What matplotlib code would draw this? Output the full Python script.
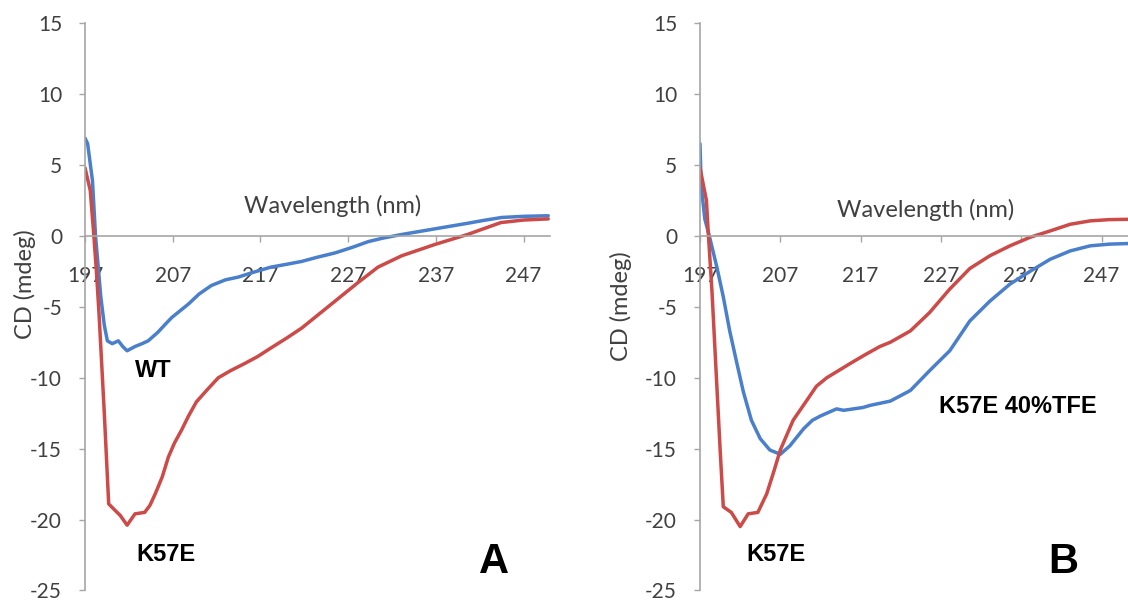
import matplotlib
matplotlib.use('Agg')
import matplotlib.pyplot as plt

# panel A: wild type vs K57E
wl_wt_a = [197.0, 197.3, 197.85, 198.2, 198.8, 199.2, 199.55, 200.1, 200.8, 201.3,
           201.8, 202.7, 203.5, 204.2, 205.3, 206.2, 206.9, 207.8, 208.8, 210.0,
           211.4, 213.0, 214.5, 216.0, 218.2, 220.0, 221.7, 223.5, 225.5, 227.5,
           229.3, 231.0, 233.1, 235.0, 236.9, 238.8, 240.7, 242.5, 244.5, 247.0, 249.8]
cd_wt_a = [6.9, 6.5, 3.9, 0.0, -4.3, -6.3, -7.4, -7.6, -7.4, -7.8,
           -8.1, -7.8, -7.6, -7.4, -6.8, -6.2, -5.75, -5.3, -4.8, -4.1,
           -3.5, -3.1, -2.9, -2.6, -2.2, -2.0, -1.8, -1.5, -1.2, -0.8,
           -0.4, -0.15, 0.1, 0.3, 0.5, 0.7, 0.9, 1.1, 1.3, 1.38, 1.42]

wl_k57e_a = [197.0, 197.6, 198.0, 198.3, 198.6, 199.2, 199.7, 200.5, 201.0, 201.8,
             202.7, 203.8, 204.4, 205.0, 205.8, 206.5, 207.2, 208.0, 208.8, 209.7,
             211.0, 212.2, 213.6, 215.2, 216.7, 218.2, 220.0, 221.7, 223.5, 225.5,
             228.1, 230.4, 233.1, 236.9, 240.6, 244.4, 247.0, 249.8]
cd_k57e_a = [4.8, 3.2, 0.1, -2.5, -5.5, -12.5, -18.9, -19.4, -19.7, -20.4,
             -19.6, -19.5, -19.0, -18.2, -17.0, -15.6, -14.6, -13.7, -12.7, -11.7,
             -10.8, -10.0, -9.5, -9.0, -8.5, -7.9, -7.2, -6.5, -5.6, -4.6,
             -3.3, -2.2, -1.4, -0.6, 0.1, 0.94, 1.12, 1.2]

# panel B: K57E in 40% TFE vs K57E
wl_tfe_b = [197.0, 197.15, 197.6, 198.2, 199.1, 199.9, 200.7, 201.6, 202.4, 203.4,
            204.5, 205.7, 207.0, 208.2, 209.9, 211.0, 212.0, 214.0, 214.9, 217.3,
            218.2, 220.7, 223.2, 225.6, 228.1, 230.6, 233.1, 235.6, 238.1, 240.6,
            243.1, 245.6, 248.0, 250.3]
cd_tfe_b = [6.5, 3.5, 1.2, -0.1, -2.2, -4.3, -6.7, -9.0, -11.0, -13.0,
            -14.3, -15.1, -15.4, -14.8, -13.6, -13.0, -12.7, -12.2, -12.3, -12.1,
            -11.95, -11.65, -10.9, -9.5, -8.1, -6.0, -4.6, -3.4, -2.5, -1.65,
            -1.06, -0.7, -0.58, -0.54]

wl_k57e_b = [197.0, 197.8, 198.0, 198.5, 199.0, 199.5, 199.9, 200.9, 202.0, 203.0,
             204.2, 205.3, 206.2, 207.0, 208.6, 210.3, 211.5, 212.8, 215.7, 217.5,
             219.4, 220.7, 223.2, 225.6, 228.1, 230.6, 233.1, 235.6, 238.1, 240.6,
             243.1, 245.6, 248.0, 250.3]
cd_k57e_b = [4.8, 2.5, 0.5, -4.0, -9.5, -15.0, -19.1, -19.5, -20.5, -19.6,
             -19.5, -18.2, -16.6, -15.1, -13.0, -11.6, -10.6, -10.0, -9.0, -8.4,
             -7.8, -7.5, -6.7, -5.4, -3.75, -2.3, -1.4, -0.7, -0.1, 0.35,
             0.82, 1.06, 1.15, 1.17]

xticks = [197, 207, 217, 227, 237, 247]
yticks = [-25, -20, -15, -10, -5, 0, 5, 10, 15]

BLUE = '#4A7FCB'
RED = '#CC4A47'
AXIS = '#A6A6A6'
TXT = '#404040'

W, H = 1128, 607
plt.rcParams['font.family'] = ['Lato', 'DejaVu Sans']
plt.rcParams['axes.unicode_minus'] = False


def px(x, y):
    return x / W, 1 - y / H


def style(ax, xmax):
    ax.set_xlim(197, xmax)
    ax.set_ylim(-25, 15)
    ax.spines['top'].set_visible(False)
    ax.spines['right'].set_visible(False)
    ax.spines['bottom'].set_position(('data', 0))
    for s in ['left', 'bottom']:
        ax.spines[s].set_color(AXIS)
        ax.spines[s].set_linewidth(1.2)
    ax.set_xticks(xticks)
    ax.set_yticks(yticks)
    ax.tick_params(axis='x', direction='out', length=4.5, width=1, color=AXIS,
                   pad=17, labelsize=15, labelcolor=TXT)
    ax.tick_params(axis='y', direction='out', length=4.5, width=1, color=AXIS,
                   pad=12, labelsize=15, labelcolor=TXT)
    ax.patch.set_alpha(0)


fig = plt.figure(figsize=(W / 100, H / 100), dpi=100)
bottom = (H - 590.4) / H
height = 567.2 / H
axA = fig.add_axes([85 / W, bottom, 465 / W, height])
axB = fig.add_axes([700 / W, bottom, 428 / W, height])

line = dict(lw=2.5, solid_joinstyle='round', solid_capstyle='round')
axA.plot(wl_wt_a, cd_wt_a, color=BLUE, **line)
axA.plot(wl_k57e_a, cd_k57e_a, color=RED, **line)
style(axA, 250)

axB.plot(wl_tfe_b, cd_tfe_b, color=BLUE, **line)
axB.plot(wl_k57e_b, cd_k57e_b, color=RED, **line)
style(axB, 250.3)

# axis titles
fig.text(*px(25, 284), 'CD (mdeg)', rotation=90, ha='center', va='center',
         fontsize=17, color=TXT)
fig.text(*px(621, 306), 'CD (mdeg)', rotation=90, ha='center', va='center',
         fontsize=17, color=TXT)
fig.text(*px(333, 213), 'Wavelength (nm)', ha='center', va='baseline',
         fontsize=17, color=TXT)
fig.text(*px(926, 217), 'Wavelength (nm)', ha='center', va='baseline',
         fontsize=17, color=TXT)

# curve labels
bold = dict(family='Liberation Sans', fontweight='bold', color='black',
            ha='center', va='baseline')
fig.text(*px(153, 377), 'WT', fontsize=17, **bold)
fig.text(*px(166, 561), 'K57E', fontsize=17, **bold)
fig.text(*px(776, 561), 'K57E', fontsize=17, **bold)
fig.text(*px(1018, 413), 'K57E 40%TFE', fontsize=17, **bold)
fig.text(*px(494, 573), 'A', fontsize=30, **bold)
fig.text(*px(1063, 573), 'B', fontsize=30, **bold)

fig.savefig('out.png', dpi=100)
